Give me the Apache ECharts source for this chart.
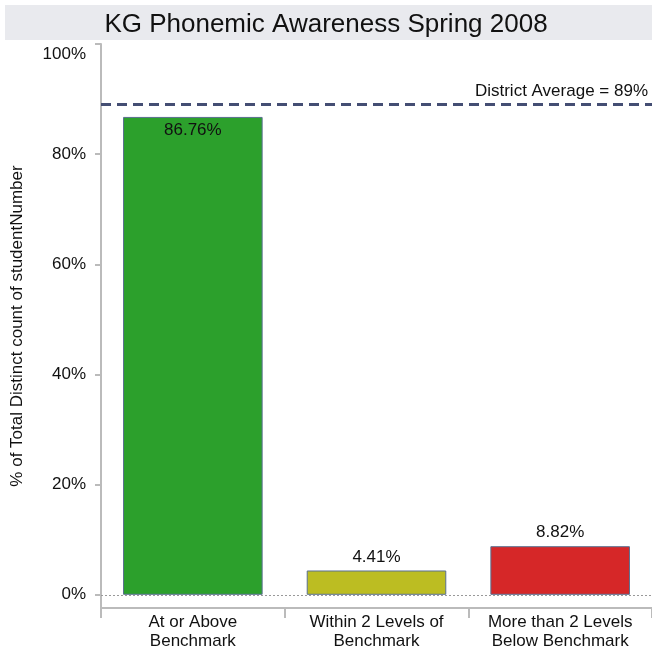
<!DOCTYPE html>
<html>
<head>
<meta charset="utf-8">
<script src="https://cdn.jsdelivr.net/npm/echarts@6/dist/echarts.min.js"></script>
<style>
	html, body { margin: 0; padding: 0; background: #fff; }
	#chart { width: 652px; height: 658px; }
</style>
</head>
<body>
<div id="chart"></div>
<script>
// data
const categories = ['At or Above\nBenchmark', 'Within 2 Levels of\nBenchmark', 'More than 2 Levels\nBelow Benchmark'];
const percents = [86.76, 4.41, 8.82];
const barColors = ['#2ca02c', '#bcbd22', '#d62728'];
const yTicks = [0, 20, 40, 60, 80, 100];
const districtAverage = 89;

const font = 'Liberation Sans, Arial, sans-serif';

let chart = echarts.init(document.getElementById('chart'), null, { renderer: 'canvas' });

let barData = percents.map((v, i) =>
{
	return {
		value: v,
		itemStyle: { color: barColors[i] },
		label: { position: i === 0 ? 'insideTop' : 'top', distance: 5 }
	};
});

let option = {
	animation: false,
	textStyle: { fontFamily: font },
	graphic: [
		{
			type: 'rect',
			shape: { x: 5, y: 5, width: 647, height: 35 },
			style: { fill: '#e9eaee' },
			z: -1
		}
	],
	title: {
		text: 'KG Phonemic Awareness Spring 2008',
		left: 'center',
		top: 7,
		textStyle: { fontFamily: font, fontSize: 26, fontWeight: 'normal', color: '#111' }
	},
	grid: { left: 101, right: 0, top: 44, bottom: 50 },
	xAxis: {
		type: 'category',
		data: categories,
		axisLine: { onZero: false, lineStyle: { color: '#bbbbbb', width: 2 } },
		axisTick: { show: true, interval: 0, length: 10, lineStyle: { color: '#bbbbbb', width: 2 } },
		axisLabel: { interval: 0, color: '#111', fontSize: 17, lineHeight: 19, margin: 5, fontFamily: font }
	},
	yAxis: {
		type: 'value',
		min: -2.4,
		max: 100,
		name: '% of Total Distinct count of studentNumber',
		nameLocation: 'middle',
		nameGap: 75,
		nameTextStyle: { color: '#111', fontSize: 17, fontFamily: font },
		axisLine: { show: true, lineStyle: { color: '#bbbbbb', width: 2 } },
		axisTick: { show: true, length: 6, customValues: yTicks, lineStyle: { color: '#bbbbbb', width: 2 } },
		axisLabel: {
			customValues: yTicks,
			color: '#111',
			fontSize: 17,
			fontFamily: font,
			margin: 15,
			formatter: (v) => v === 100 ? '{top|100%}' : v + '%',
			rich: { top: { padding: [20, 0, 0, 0], fontSize: 17, color: '#111' } }
		},
		splitLine: { show: false }
	},
	series: [
		{
			type: 'bar',
			data: barData,
			barWidth: '76%',
			itemStyle: { borderColor: '#5a7090', borderWidth: 1 },
			label: {
				show: true,
				color: '#111',
				fontSize: 17,
				fontFamily: font,
				formatter: (p) => p.value.toFixed(2) + '%'
			},
			markLine: {
				silent: true,
				symbol: 'none',
				data: [
					{
						yAxis: 0,
						lineStyle: { type: [2, 2], color: '#999999', width: 1 },
						label: { show: false }
					},
					{
						yAxis: districtAverage,
						lineStyle: { type: [10, 6], color: '#444e73', width: 3 },
						label: {
							show: true,
							position: 'insideEndTop',
							formatter: 'District Average = ' + districtAverage + '%',
							color: '#111',
							fontSize: 17,
							fontFamily: font,
							distance: [4, 5]
						}
					}
				]
			}
		}
	]
};

chart.setOption(option);
</script>
</body>
</html>
